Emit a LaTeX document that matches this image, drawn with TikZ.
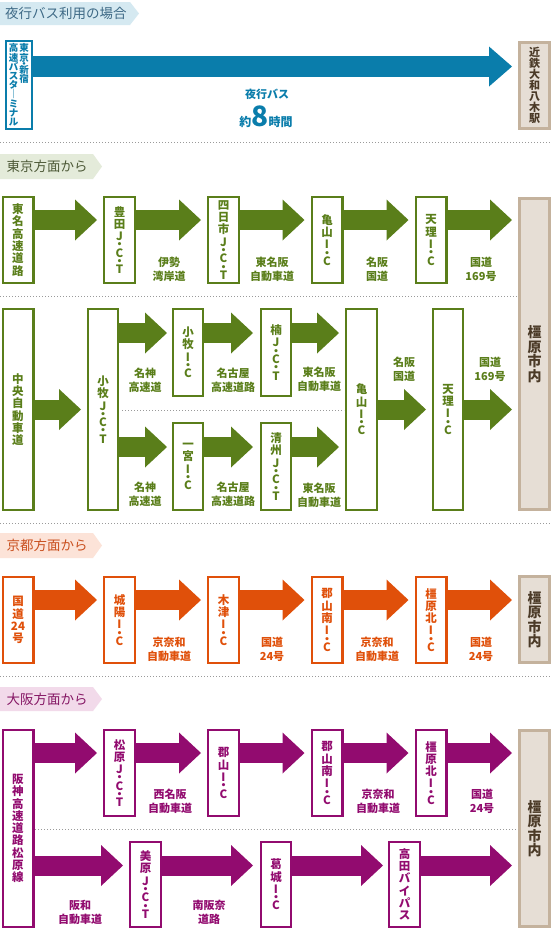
\documentclass[tikz,border=0pt]{standalone}
\usepackage{fontspec}
\setmainfont{Noto Sans CJK JP}
\usepackage{xcolor}
\usetikzlibrary{arrows.meta,calc}

\definecolor{busblue}{HTML}{0A7DAB}
\definecolor{tkgreen}{HTML}{5A7E1A}
\definecolor{kyorange}{HTML}{E0500A}
\definecolor{ospurple}{HTML}{920B6F}
\definecolor{destfill}{HTML}{E6DED5}
\definecolor{destline}{HTML}{C4B29D}
\definecolor{desttext}{HTML}{4B3A27}
\definecolor{sepgray}{HTML}{9A9A9A}
\definecolor{hdrbluefill}{HTML}{D5E9F1}
\definecolor{hdrbluetext}{HTML}{3E6A86}
\definecolor{hdrgreenfill}{HTML}{E4EBDA}
\definecolor{hdrgreentext}{HTML}{4E5A38}
\definecolor{hdrorangefill}{HTML}{FCE3D8}
\definecolor{hdrorangetext}{HTML}{C9501F}
\definecolor{hdrpurplefill}{HTML}{F2DAEA}
\definecolor{hdrpurpletext}{HTML}{861865}

% dot between stacked letters (J.C.T / I.C)
\newcommand{\jd}{\\[-4pt]・\\[-4pt]}

\begin{document}
\begin{tikzpicture}[
x=1pt, y=-1pt,
box/.style={draw=#1, text=#1, line width=2.4pt, fill=white, minimum width=30.6pt, minimum height=85.6pt, inner sep=0pt, align=center, font=\bfseries\fontsize{11.5}{12.3}\selectfont},
destbox/.style={draw=destline, fill=destfill, text=desttext, line width=3pt, minimum width=30pt, inner sep=0pt, align=center, font=\bfseries\fontsize{14}{14.5}\selectfont},
arrow/.style={draw=#1, line width=20pt, -{Triangle[length=22pt, width=41pt, line width=0pt, fill=#1]}},
roadlabel/.style={text=#1, align=center, inner sep=0pt, font=\bfseries\fontsize{11}{14}\selectfont},
hdrtext/.style={text=#1, inner sep=0pt, font=\fontsize{13.5}{13.5}\selectfont},
divider/.style={draw=sepgray, line width=1pt, dash pattern=on 1pt off 2pt}
]
\fill[white] (0,0) rectangle (552,930);
\useasboundingbox (0,0) rectangle (552,930);

% night bus
\fill[hdrbluefill] (0,2) -- (130,2) -- (139,13.5) -- (130,25) -- (0,25) -- cycle;
\node[hdrtext=hdrbluetext] (hdrbus) at (66,13.5) {夜行バス利用の場合};
\node[box=busblue, line width=2.2pt, minimum width=25.8pt, minimum height=87.8pt, font=\bfseries\fontsize{9.5}{9.2}\selectfont] (tokyoterm) at (19,85)
  {\parbox[t]{9.5pt}{\centering 高\\速\\バ\\ス\\タ\\｜\\ミ\\ナ\\ル}\hspace{1pt}\parbox[t]{9.5pt}{\centering 東\\京\\[-3pt]・\\[-3pt]新\\宿}};
\node[destbox, minimum height=86pt, font=\bfseries\fontsize{11}{11}\selectfont] (yagi) at (534.5,85.5) {近\\鉄\\大\\和\\八\\木\\駅};
\draw[arrow=busblue, line width=21pt, -{Triangle[length=23pt, width=40pt, line width=0pt, fill=busblue]}] ($(tokyoterm.east)+(0,-18.5)$) -- ($(yagi.west)+(-6,-19)$);
\node[text=busblue, inner sep=0pt, font=\bfseries\fontsize{11}{11}\selectfont] (bustext) at (267,94) {夜行バス};
\node[text=busblue, inner sep=0pt, anchor=base, font=\bfseries\fontsize{12}{12}\selectfont] (bustime) at (266,126) {約{\fontsize{28}{28}\selectfont 8}時間};

\draw[divider] (0,142) -- (552,142);

% from Tokyo
\fill[hdrgreenfill] (0,154) -- (93,154) -- (102,166.5) -- (93,179) -- (0,179) -- cycle;
\node[hdrtext=hdrgreentext] (hdrtokyo) at (47,166.5) {東京方面から};
\node[box=tkgreen] (tomei) at (18,240) {東\\名\\高\\速\\道\\路};
\node[box=tkgreen] (toyota) at (119.5,240) {豊\\田\\J\jd C\jd T};
\node[box=tkgreen] (yokkaichi) at (223.5,240) {四\\日\\市\\J\jd C\jd T};
\node[box=tkgreen] (kameyama1) at (327,240) {亀\\山\\I\jd C};
\node[box=tkgreen] (tenri1) at (431,240) {天\\理\\I\jd C};
\node[destbox, minimum height=311pt] (kashihara1) at (534.5,354) {橿\\原\\市\\内};
\draw[arrow=tkgreen] ($(tomei.east)+(0,-20)$) -- ($(toyota.west)+(-6,-20)$);
\draw[arrow=tkgreen] ($(toyota.east)+(0,-20)$) -- ($(yokkaichi.west)+(-6,-20)$);
\draw[arrow=tkgreen] ($(yokkaichi.east)+(0,-20)$) -- ($(kameyama1.west)+(-6,-20)$);
\draw[arrow=tkgreen] ($(kameyama1.east)+(0,-20)$) -- ($(tenri1.west)+(-6,-20)$);
\draw[arrow=tkgreen] ($(tenri1.east)+(0,-20)$) -- ($(tenri1.east -| kashihara1.west)+(-6,-20)$);
\node[roadlabel=tkgreen] (isewan) at (169,269.5) {伊勢\\湾岸道};
\node[roadlabel=tkgreen] (higashimeihan) at (272,269.5) {東名阪\\自動車道};
\node[roadlabel=tkgreen] (meihan) at (377,269.5) {名阪\\国道};
\node[roadlabel=tkgreen] (route169) at (481,269.5) {国道\\169号};

\draw[divider] (0,296) -- (518,296);

\node[box=tkgreen, minimum height=200.6pt] (chuo) at (18,409.5) {中\\央\\自\\動\\車\\道};
\node[box=tkgreen, minimum height=200.6pt, minimum width=29.6pt] (komakijct) at (103,409.5) {小\\牧\\J\jd C\jd T};
\node[box=tkgreen, minimum height=86.6pt, minimum width=29.6pt] (komakiic) at (188,352.5) {小\\牧\\I\jd C};
\node[box=tkgreen, minimum height=86.6pt, minimum width=29.6pt] (kusunoki) at (276,352.5) {楠\\J\jd C\jd T};
\node[box=tkgreen, minimum height=86.6pt, minimum width=29.6pt] (ichinomiya) at (188,466.5) {一\\宮\\I\jd C};
\node[box=tkgreen, minimum height=86.6pt, minimum width=29.6pt] (kiyosu) at (276,466.5) {清\\州\\J\jd C\jd T};
\node[box=tkgreen, minimum height=200.6pt] (kameyama2) at (361.5,409.5) {亀\\山\\I\jd C};
\node[box=tkgreen, minimum height=200.6pt, minimum width=29.6pt] (tenri2) at (448,409.5) {天\\理\\I\jd C};
\draw[divider] (122,410) -- (344,410);
\draw[arrow=tkgreen] (chuo.east) -- ($(komakijct.west)+(-6,0)$);
\draw[arrow=tkgreen] ($(komakijct.east |- komakiic.west)+(0,-19.5)$) -- ($(komakiic.west)+(-5,-19.5)$);
\draw[arrow=tkgreen] ($(komakijct.east |- ichinomiya.west)+(0,-19.5)$) -- ($(ichinomiya.west)+(-5,-19.5)$);
\draw[arrow=tkgreen] ($(komakiic.east)+(0,-19.5)$) -- ($(kusunoki.west)+(-7,-19.5)$);
\draw[arrow=tkgreen] ($(ichinomiya.east)+(0,-19.5)$) -- ($(kiyosu.west)+(-7,-19.5)$);
\draw[arrow=tkgreen] ($(kusunoki.east)+(0,-19.5)$) -- ($(kusunoki.east -| kameyama2.west)+(-6,-19.5)$);
\draw[arrow=tkgreen] ($(kiyosu.east)+(0,-19.5)$) -- ($(kiyosu.east -| kameyama2.west)+(-6,-19.5)$);
\draw[arrow=tkgreen] (kameyama2.east) -- ($(tenri2.west)+(-6,0)$);
\draw[arrow=tkgreen] (tenri2.east) -- ($(tenri2.east -| kashihara1.west)+(-6,0)$);
\node[roadlabel=tkgreen] (meishin1) at (145,380.5) {名神\\高速道};
\node[roadlabel=tkgreen] (nagoya1) at (233,380.5) {名古屋\\高速道路};
\node[roadlabel=tkgreen] (higashimeihan1) at (319,379.5) {東名阪\\自動車道};
\node[roadlabel=tkgreen] (meishin2) at (145,494.5) {名神\\高速道};
\node[roadlabel=tkgreen] (nagoya2) at (233,494.5) {名古屋\\高速道路};
\node[roadlabel=tkgreen] (higashimeihan2) at (319,495.5) {東名阪\\自動車道};
\node[roadlabel=tkgreen] (meihan2) at (404,369.5) {名阪\\国道};
\node[roadlabel=tkgreen] (route169b) at (490,369.5) {国道\\169号};

\draw[divider] (0,523) -- (552,523);

% from Kyoto
\fill[hdrorangefill] (0,533) -- (93,533) -- (102,545.5) -- (93,558) -- (0,558) -- cycle;
\node[hdrtext=hdrorangetext] (hdrkyoto) at (47,545.5) {京都方面から};
\node[box=kyorange] (route24) at (18,620) {国\\道\\24\\号};
\node[box=kyorange] (joyo) at (119.5,620) {城\\陽\\I\jd C};
\node[box=kyorange] (kizu) at (223.5,620) {木\\津\\I\jd C};
\node[box=kyorange] (koriyamaminami1) at (327,620) {郡\\山\\南\\I\jd C};
\node[box=kyorange] (kashiharakita1) at (431,620) {橿\\原\\北\\I\jd C};
\node[destbox, minimum height=86pt] (kashihara2) at (534.5,619.5) {橿\\原\\市\\内};
\draw[arrow=kyorange] ($(route24.east)+(0,-20)$) -- ($(joyo.west)+(-6,-20)$);
\draw[arrow=kyorange] ($(joyo.east)+(0,-20)$) -- ($(kizu.west)+(-6,-20)$);
\draw[arrow=kyorange] ($(kizu.east)+(0,-20)$) -- ($(koriyamaminami1.west)+(-6,-20)$);
\draw[arrow=kyorange] ($(koriyamaminami1.east)+(0,-20)$) -- ($(kashiharakita1.west)+(-6,-20)$);
\draw[arrow=kyorange] ($(kashiharakita1.east)+(0,-20)$) -- ($(kashiharakita1.east -| kashihara2.west)+(-6,-20)$);
\node[roadlabel=kyorange] (keinawa1) at (169,649.5) {京奈和\\自動車道};
\node[roadlabel=kyorange] (route24a) at (272,649.5) {国道\\24号};
\node[roadlabel=kyorange] (keinawa2) at (377,649.5) {京奈和\\自動車道};
\node[roadlabel=kyorange] (route24b) at (481,649.5) {国道\\24号};

\draw[divider] (0,676) -- (552,676);

% from Osaka
\fill[hdrpurplefill] (0,687) -- (93,687) -- (102,699) -- (93,711) -- (0,711) -- cycle;
\node[hdrtext=hdrpurpletext] (hdrosaka) at (47,699) {大阪方面から};
\node[box=ospurple, minimum height=196.6pt] (hanshin) at (18,828.5) {阪\\神\\高\\速\\道\\路\\松\\原\\線};
\node[box=ospurple] (matsubara) at (119.5,773) {松\\原\\J\jd C\jd T};
\node[box=ospurple] (koriyama) at (223.5,773) {郡\\山\\I\jd C};
\node[box=ospurple] (koriyamaminami2) at (327,773) {郡\\山\\南\\I\jd C};
\node[box=ospurple] (kashiharakita2) at (431,773) {橿\\原\\北\\I\jd C};
\node[box=ospurple, minimum height=84.6pt] (mihara) at (145.5,884.5) {美\\原\\J\jd C\jd T};
\node[box=ospurple, minimum height=84.6pt, minimum width=29.6pt] (katsuragi) at (276,884.5) {葛\\城\\I\jd C};
\node[box=ospurple, minimum height=84.6pt] (takada) at (404.5,884.5) {高\\田\\バ\\イ\\パ\\ス};
\node[destbox, minimum height=196pt] (kashihara3) at (534.5,828.5) {橿\\原\\市\\内};
\draw[divider] (35,829) -- (518,829);
\draw[arrow=ospurple] ($(hanshin.east |- matsubara.west)+(0,-20)$) -- ($(matsubara.west)+(-6,-20)$);
\draw[arrow=ospurple] ($(matsubara.east)+(0,-20)$) -- ($(koriyama.west)+(-6,-20)$);
\draw[arrow=ospurple] ($(koriyama.east)+(0,-20)$) -- ($(koriyamaminami2.west)+(-6,-20)$);
\draw[arrow=ospurple] ($(koriyamaminami2.east)+(0,-20)$) -- ($(kashiharakita2.west)+(-6,-20)$);
\draw[arrow=ospurple] ($(kashiharakita2.east)+(0,-20)$) -- ($(kashiharakita2.east -| kashihara3.west)+(-6,-20)$);
\draw[arrow=ospurple] ($(hanshin.east |- mihara.west)+(0,-19)$) -- ($(mihara.west)+(-6,-19)$);
\draw[arrow=ospurple] ($(mihara.east)+(0,-19)$) -- ($(katsuragi.west)+(-7,-19)$);
\draw[arrow=ospurple] ($(katsuragi.east)+(0,-19)$) -- ($(takada.west)+(-5,-19)$);
\draw[arrow=ospurple] ($(takada.east)+(0,-19)$) -- ($(takada.east -| kashihara3.west)+(-6,-19)$);
\node[roadlabel=ospurple] (nishimeihan) at (170,801.5) {西名阪\\自動車道};
\node[roadlabel=ospurple] (keinawa3) at (378,801.5) {京奈和\\自動車道};
\node[roadlabel=ospurple] (route24c) at (482,801.5) {国道\\24号};
\node[roadlabel=ospurple] (hanwa) at (80,912) {阪和\\自動車道};
\node[roadlabel=ospurple] (minamihanna) at (209,912) {南阪奈\\道路};
\end{tikzpicture}
\end{document}
